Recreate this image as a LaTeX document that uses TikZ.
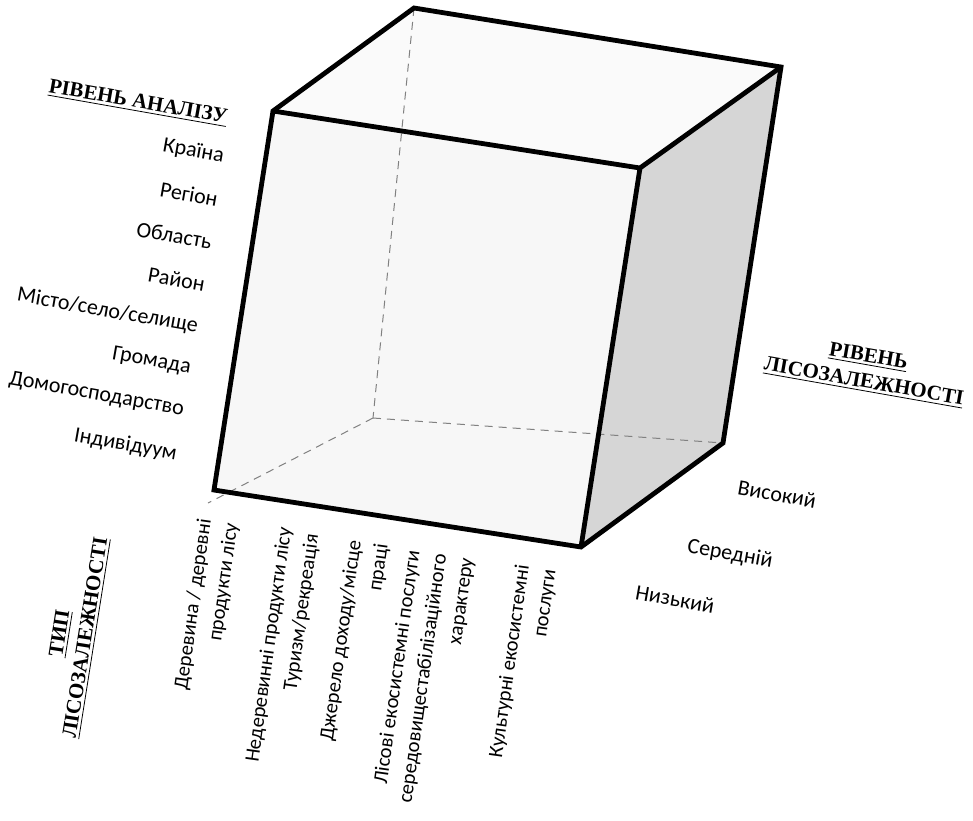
\documentclass[tikz,border=0pt]{standalone}
\usepackage{fontspec}
\setmainfont{Carlito}
\newfontfamily\titlefont{Liberation Serif}
\begin{document}
\begin{tikzpicture}[x=0.5pt,y=0.5pt,
  lbl/.style={font=\fontsize{11}{13}\selectfont, inner sep=0pt, rotate=-10},
  vlbl/.style={font=\fontsize{10.3}{13.5}\selectfont, inner sep=0pt, rotate=82, align=right, anchor=east},
  ttl/.style={font=\titlefont\bfseries\fontsize{10.5}{13}\selectfont, inner sep=0pt, align=center},
  cubeedge/.style={line width=2.4pt, line join=miter},
  hidden/.style={gray, line width=0.5pt, dash pattern=on 4pt off 3pt}]
\useasboundingbox (0,0) rectangle (973,-820);
% cube vertices
\coordinate (A) at (414,-8);
\coordinate (B) at (781,-67);
\coordinate (C) at (273,-111);
\coordinate (D) at (640,-168);
\coordinate (E) at (214,-490);
\coordinate (F) at (581,-547);
\coordinate (G) at (723,-443);
\coordinate (H) at (373,-418);
\coordinate (E0) at (208,-503);
% faces
\fill[gray!4] (C)--(A)--(B)--(D)--cycle;
\fill[gray!6] (C)--(D)--(F)--(E)--cycle;
\fill[gray!32] (D)--(B)--(G)--(F)--cycle;
% hidden edges
\draw[hidden] (A)--(H);
\draw[hidden] (H)--(G);
\draw[hidden] (H)--(E0);
% visible edges
\draw[cubeedge] (C)--(A)--(B)--(G)--(F)--(E)--cycle;
\draw[cubeedge] (C)--(D)--(B);
\draw[cubeedge] (D)--(F);
% titles
\node[ttl, rotate=-10] (t1) at (138,-103) {\underline{РІВЕНЬ АНАЛІЗУ}};
\node[ttl, rotate=-10] (t2) at (866,-370) {\underline{РІВЕНЬ}\\\underline{ЛІСОЗАЛЕЖНОСТІ}};
\node[ttl, rotate=81] (t3) at (74,-636) {\underline{ТИП}\\\underline{ЛІСОЗАЛЕЖНОСТІ}};
% level of analysis
\node[lbl, anchor=east] (a1) at (224,-157) {Країна};
\node[lbl, anchor=east] (a2) at (218,-199) {Регіон};
\node[lbl, anchor=east] (a3) at (212,-242) {Область};
\node[lbl, anchor=east] (a4) at (205,-284) {Район};
\node[lbl, anchor=east] (a5) at (198,-327) {Місто/село/селище};
\node[lbl, anchor=east] (a6) at (191,-368) {Громада};
\node[lbl, anchor=east] (a7) at (184,-410) {Домогосподарство};
\node[lbl, anchor=east] (a8) at (177,-454) {Індивідуум};
% level of dependence
\node[lbl] (d1) at (777,-494) {Високий};
\node[lbl] (d2) at (730,-554) {Середній};
\node[lbl] (d3) at (675,-599) {Низький};
% type of dependence
\node[vlbl] (b1) at (219,-521) {Деревина / деревні\\продукти лісу};
\node[vlbl] (b2) at (286,-527) {Недеревинні продукти лісу};
\node[vlbl] (b3) at (313,-534) {Туризм/рекреація};
\node[vlbl] (b4) at (369,-542) {Джерело доходу/місце\\праці};
\node[vlbl] (b5) at (441,-554) {Лісові екосистемні послуги\\середовищестабілізаційного\\характеру};
\node[vlbl] (b6) at (537,-567) {Культурні екосистемні\\послуги};
\end{tikzpicture}
\end{document}
